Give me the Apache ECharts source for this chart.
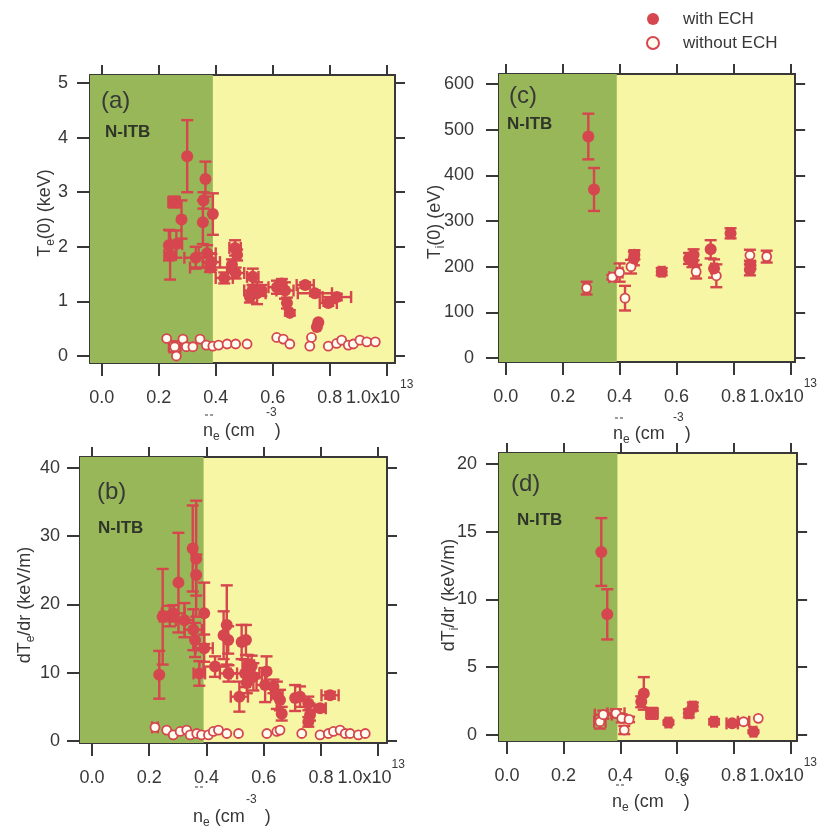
<!DOCTYPE html>
<html>
<head>
<meta charset="utf-8">
<script src="https://cdn.jsdelivr.net/npm/echarts@6/dist/echarts.min.js"></script>
<style>
  html, body { margin: 0; padding: 0; background: #ffffff; }
  #chart { width: 834px; height: 827px; }
</style>
</head>
<body>
<div id="chart"></div>
<script>
// Colours and fonts
const RED = '#d6464e';
const GREEN = '#98b758';
const YELLOW = '#f7f6a4';
const INK = '#383838';
const FONT = '"Liberation Sans", Arial, Helvetica, sans-serif';

// Tick values
const NE_TICKS = [0, 0.2, 0.4, 0.6, 0.8, 1.0];          // line-averaged density, 1e13 cm^-3
const TE_TICKS = [0, 1, 2, 3, 4, 5];                      // keV
const TI_TICKS = [0, 100, 200, 300, 400, 500, 600];       // eV
const DTE_TICKS = [0, 10, 20, 30, 40];                    // keV/m
const DTI_TICKS = [0, 5, 10, 15, 20];                     // keV/m

// Upper density limit of the N-ITB regime
const ITB_EDGE = 0.39;

// Rows: [ne, value, half error in value, half error in ne]

// (a) central electron temperature Te(0), keV
const teWithECH = [
  [0.240, 1.85, 0.45, 0.02], [0.236, 2.03, 0.28, 0], [0.262, 2.05, 0.25, 0.02],
  [0.254, 2.82, 0.10, 0.02], [0.280, 2.50, 0.35, 0], [0.300, 3.66, 0.66, 0],
  [0.330, 1.80, 0.20, 0.04], [0.364, 3.24, 0.32, 0], [0.357, 2.85, 0.15, 0],
  [0.355, 2.45, 0.40, 0], [0.390, 2.60, 0.38, 0], [0.370, 1.88, 0.15, 0.03],
  [0.385, 1.72, 0.15, 0.03], [0.380, 1.62, 0.08, 0.07], [0.430, 1.43, 0.10, 0.03],
  [0.470, 1.52, 0.10, 0.03], [0.468, 1.98, 0.14, 0.02], [0.475, 1.85, 0.10, 0],
  [0.457, 1.67, 0.10, 0], [0.530, 1.45, 0.15, 0.02], [0.530, 1.20, 0.10, 0.03],
  [0.545, 1.15, 0.20, 0.03], [0.560, 1.20, 0.10, 0], [0.520, 1.08, 0.10, 0],
  [0.615, 1.26, 0.12, 0.03], [0.643, 1.20, 0.15, 0.03], [0.632, 1.33, 0.08, 0],
  [0.650, 0.97, 0.10, 0], [0.660, 0.79, 0.05, 0], [0.714, 1.30, 0.05, 0.03],
  [0.748, 1.15, 0.05, 0.06], [0.760, 0.62, 0, 0], [0.755, 0.53, 0, 0],
  [0.795, 0.97, 0.05, 0.03], [0.825, 1.08, 0.06, 0.05]
];
const teWithoutECH = [
  [0.228, 0.32, 0, 0], [0.262, 0.00, 0, 0], [0.256, 0.17, 0.10, 0.02], [0.285, 0.31, 0, 0],
  [0.297, 0.17, 0, 0], [0.320, 0.17, 0, 0], [0.345, 0.31, 0, 0], [0.367, 0.20, 0, 0],
  [0.390, 0.18, 0, 0], [0.410, 0.20, 0, 0], [0.440, 0.22, 0, 0], [0.470, 0.22, 0, 0],
  [0.510, 0.22, 0, 0], [0.614, 0.34, 0, 0], [0.637, 0.31, 0, 0], [0.660, 0.22, 0, 0],
  [0.736, 0.34, 0, 0], [0.730, 0.18, 0, 0], [0.795, 0.18, 0, 0], [0.824, 0.23, 0, 0],
  [0.842, 0.29, 0, 0], [0.865, 0.20, 0, 0], [0.883, 0.22, 0, 0], [0.906, 0.29, 0, 0],
  [0.930, 0.26, 0, 0], [0.960, 0.26, 0, 0]
];

// (b) electron temperature gradient dTe/dr, keV/m
const dteWithECH = [
  [0.235, 9.7, 3.5, 0], [0.247, 18.2, 7.0, 0.01], [0.272, 18.3, 1.5, 0.02],
  [0.284, 18.7, 1.2, 0.04], [0.302, 23.2, 7.3, 0], [0.323, 17.7, 2.5, 0.03],
  [0.352, 28.2, 6.3, 0], [0.364, 26.7, 8.5, 0], [0.364, 24.3, 3.0, 0],
  [0.354, 16.3, 3.0, 0.03], [0.360, 14.8, 2.5, 0], [0.375, 9.9, 1.8, 0.02],
  [0.392, 18.7, 4.5, 0], [0.392, 13.6, 2.0, 0.03], [0.430, 10.9, 1.5, 0.04],
  [0.460, 15.5, 3.5, 0], [0.471, 17.0, 5.8, 0], [0.476, 14.8, 2.0, 0],
  [0.477, 9.9, 1.2, 0.03], [0.515, 6.5, 2.2, 0.03], [0.523, 14.5, 2.5, 0],
  [0.538, 14.8, 2.2, 0], [0.535, 9.9, 2.0, 0.05], [0.546, 11.1, 1.5, 0.02],
  [0.541, 8.5, 1.5, 0], [0.564, 9.4, 2.0, 0.03], [0.558, 11.0, 1.5, 0],
  [0.610, 10.2, 2.2, 0], [0.605, 8.2, 2.5, 0.03], [0.634, 8.0, 1.0, 0],
  [0.646, 6.7, 2.0, 0.02], [0.657, 6.0, 1.5, 0], [0.663, 4.0, 1.0, 0],
  [0.710, 6.3, 1.9, 0], [0.727, 6.5, 1.5, 0], [0.756, 5.5, 1.0, 0],
  [0.762, 3.8, 0.8, 0], [0.756, 2.8, 0.7, 0], [0.797, 4.8, 0.5, 0.02],
  [0.832, 6.7, 0.5, 0.03]
];
const dteWithoutECH = [
  [0.220, 2.0, 0, 0.01], [0.261, 1.6, 0, 0], [0.284, 0.9, 0, 0], [0.308, 1.4, 0, 0],
  [0.331, 1.6, 0, 0], [0.343, 0.9, 0, 0], [0.366, 1.1, 0, 0], [0.383, 0.9, 0, 0],
  [0.407, 0.9, 0, 0], [0.424, 1.4, 0, 0], [0.442, 1.6, 0, 0], [0.471, 1.1, 0, 0],
  [0.512, 1.1, 0, 0], [0.611, 1.1, 0, 0], [0.646, 1.4, 0, 0], [0.657, 1.6, 0, 0],
  [0.733, 1.1, 0, 0], [0.797, 0.9, 0, 0], [0.826, 1.1, 0, 0], [0.844, 1.4, 0, 0],
  [0.867, 1.6, 0, 0], [0.885, 1.1, 0, 0], [0.902, 1.1, 0, 0], [0.931, 0.9, 0, 0],
  [0.955, 1.1, 0, 0]
];

// (c) central ion temperature Ti(0), eV
const tiWithECH = [
  [0.290, 485, 50, 0], [0.310, 369, 47, 0], [0.450, 218, 15, 0.01],
  [0.452, 226, 10, 0], [0.548, 189, 8, 0.01], [0.644, 218, 12, 0.01],
  [0.656, 211, 12, 0], [0.660, 226, 12, 0], [0.720, 238, 20, 0],
  [0.732, 196, 20, 0.01], [0.790, 273, 11, 0.01], [0.858, 193, 12, 0.01],
  [0.860, 203, 8, 0]
];
const tiWithoutECH = [
  [0.284, 153, 14, 0.01], [0.374, 177, 5, 0.01], [0.400, 187, 20, 0.01],
  [0.419, 131, 27, 0], [0.440, 200, 15, 0], [0.669, 189, 15, 0.01],
  [0.740, 180, 25, 0], [0.858, 225, 12, 0], [0.917, 222, 13, 0.01]
];

// (d) ion temperature gradient dTi/dr, keV/m
const dtiWithECH = [
  [0.333, 13.5, 2.5, 0], [0.354, 8.9, 1.85, 0], [0.483, 3.07, 1.2, 0],
  [0.474, 2.45, 0.4, 0.01], [0.512, 1.60, 0.4, 0.02], [0.570, 0.92, 0.15, 0.01],
  [0.642, 1.60, 0.3, 0.01], [0.656, 2.10, 0.3, 0.01], [0.731, 0.98, 0.2, 0.01],
  [0.795, 0.86, 0.15, 0.02], [0.870, 0.25, 0.1, 0.01]
];
const dtiWithoutECH = [
  [0.328, 0.98, 0.5, 0.02], [0.340, 1.50, 0.3, 0.03], [0.385, 1.60, 0.3, 0.03],
  [0.405, 1.23, 0.3, 0], [0.414, 0.37, 0.3, 0], [0.431, 1.15, 0.2, 0],
  [0.512, 1.60, 0.2, 0], [0.835, 0.98, 0.2, 0.02], [0.887, 1.23, 0, 0]
];

// Panel frames and axis extents
const PANELS = [
  { grid: { left: 90, top: 75, width: 305, height: 288 }, xRange: [-0.041, 1.029], yRange: [-0.128, 5.147],
    yTicks: TE_TICKS, withECH: teWithECH, withoutECH: teWithoutECH, yMargin: 22 },
  { grid: { left: 499, top: 74, width: 308, height: 288 }, xRange: [-0.024, 1.017], yRange: [-8.8, 621.9],
    yTicks: TI_TICKS, withECH: tiWithECH, withoutECH: tiWithoutECH, yMargin: 25 },
  { grid: { left: 80, top: 457, width: 307, height: 286 }, xRange: [-0.042, 1.031], yRange: [-0.29, 41.6],
    yTicks: DTE_TICKS, withECH: dteWithECH, withoutECH: dteWithoutECH, yMargin: 20 },
  { grid: { left: 499, top: 453, width: 304, height: 288 }, xRange: [-0.028, 1.024], yRange: [-0.44, 20.8],
    yTicks: DTI_TICKS, withECH: dtiWithECH, withoutECH: dtiWithoutECH, yMargin: 22 }
];

const CAP = 6;
function renderErrorBar(params, api) {
  const x = api.value(0), y = api.value(1), ey = api.value(2), ex = api.value(3);
  const style = { stroke: RED, lineWidth: 2.4 };
  const children = [];
  const seg = (x1, y1, x2, y2) => children.push({ type: 'line', shape: { x1, y1, x2, y2 }, style });
  if (ey > 0) {
    const t = api.coord([x, y + ey]), b = api.coord([x, y - ey]);
    seg(t[0], t[1], b[0], b[1]);
    seg(t[0] - CAP, t[1], t[0] + CAP, t[1]);
    seg(b[0] - CAP, b[1], b[0] + CAP, b[1]);
  }
  if (ex > 0) {
    const l = api.coord([x - ex, y]), r = api.coord([x + ex, y]);
    seg(l[0], l[1], r[0], r[1]);
    seg(l[0], l[1] - CAP, l[0], l[1] + CAP);
    seg(r[0], r[1] - CAP, r[0], r[1] + CAP);
  }
  return { type: 'group', children };
}

const axisLine = { show: true, onZero: false, lineStyle: { color: INK, width: 2 } };
const tickStyle = { color: INK, width: 2 };

const grid = [], xAxis = [], yAxis = [], series = [];
PANELS.forEach((p, i) => {
  grid.push(Object.assign({ show: true, backgroundColor: YELLOW, borderWidth: 0 }, p.grid));
  const xBase = { type: 'value', gridIndex: i, min: p.xRange[0], max: p.xRange[1], axisLine, splitLine: { show: false } };
  xAxis.push(Object.assign({}, xBase, {
    position: 'bottom',
    axisTick: { show: true, customValues: NE_TICKS, length: 13, lineStyle: tickStyle },
    axisLabel: {
      customValues: NE_TICKS, margin: 16, color: INK, fontFamily: FONT,
      formatter: v => Math.abs(v - 1) < 1e-9 ? '{v|1.0x10}{sup|13}' : '{v|' + v.toFixed(1) + '}',
      rich: {
        v: { fontSize: 18, lineHeight: 28, verticalAlign: 'bottom', color: INK, fontFamily: FONT },
        sup: { fontSize: 12, lineHeight: 16, verticalAlign: 'top', color: INK, fontFamily: FONT, padding: [0, 14, 0, 0] }
      }
    }
  }));
  xAxis.push(Object.assign({}, xBase, {
    position: 'top',
    axisTick: { show: true, customValues: NE_TICKS, length: 10, lineStyle: tickStyle },
    axisLabel: { show: false }
  }));
  const yBase = { type: 'value', gridIndex: i, min: p.yRange[0], max: p.yRange[1], axisLine, splitLine: { show: false } };
  yAxis.push(Object.assign({}, yBase, {
    position: 'left',
    axisTick: { show: true, customValues: p.yTicks, length: 13, lineStyle: tickStyle },
    axisLabel: { customValues: p.yTicks, margin: p.yMargin, fontSize: 18, color: INK, fontFamily: FONT }
  }));
  yAxis.push(Object.assign({}, yBase, {
    position: 'right',
    axisTick: { show: true, customValues: p.yTicks, length: 10, lineStyle: tickStyle },
    axisLabel: { show: false }
  }));
  const axes = { xAxisIndex: 2 * i, yAxisIndex: 2 * i };
  series.push(Object.assign({
    type: 'scatter', data: [], silent: true, z: 1,
    markArea: { silent: true, itemStyle: { color: GREEN }, data: [[{ xAxis: p.xRange[0] }, { xAxis: ITB_EDGE }]] }
  }, axes));
  series.push(Object.assign({
    type: 'custom', renderItem: renderErrorBar, data: p.withECH.concat(p.withoutECH),
    encode: { x: 0, y: 1 }, silent: true, z: 2
  }, axes));
  series.push(Object.assign({
    type: 'scatter', name: 'without ECH', data: p.withoutECH, symbol: 'circle', symbolSize: 9,
    itemStyle: { color: '#fffdf0', borderColor: RED, borderWidth: 1.8, opacity: 1 }, z: 3
  }, axes));
  series.push(Object.assign({
    type: 'scatter', name: 'with ECH', data: p.withECH, symbol: 'circle', symbolSize: 12,
    itemStyle: { color: RED, opacity: 1 }, z: 4
  }, axes));
});

// Text helpers
const subRich = { s: { fontSize: 12, lineHeight: 12, verticalAlign: 'bottom', fill: INK, fontFamily: FONT } };
function yTitle(cx, cy, text) {
  return { type: 'text', x: cx, y: cy, rotation: Math.PI / 2, z: 10,
    style: { text, fontSize: 18, lineHeight: 24, fontFamily: FONT, fill: INK, align: 'center', verticalAlign: 'middle', rich: subRich } };
}
function neTitle(x, y, supX, supY, barX, barY) {
  return [
    { type: 'text', x, y, z: 10,
      style: { text: 'n{s|e} (cm    )', fontSize: 18, lineHeight: 24, fontFamily: FONT, fill: INK, align: 'left', verticalAlign: 'middle', rich: subRich } },
    { type: 'text', x: supX, y: supY, z: 10,
      style: { text: '-3', fontSize: 12, fontFamily: FONT, fill: INK, align: 'left', verticalAlign: 'middle' } },
    { type: 'line', z: 10, shape: { x1: barX, y1: barY, x2: barX + 8, y2: barY },
      style: { stroke: INK, lineWidth: 1.2, lineDash: [3, 2] } }
  ];
}
function panelTag(x, y, tag) {
  return { type: 'text', x, y, z: 10,
    style: { text: tag, fontSize: 24, fontFamily: FONT, fill: INK, align: 'left', verticalAlign: 'middle' } };
}
function itbTag(x, y) {
  return { type: 'text', x, y, z: 10,
    style: { text: 'N-ITB', fontSize: 17, fontWeight: 'bold', fontFamily: FONT, fill: '#30352a', align: 'left', verticalAlign: 'middle' } };
}

const graphic = [
  yTitle(45, 213, 'T{s|e}(0) (keV)'),
  yTitle(435, 222, 'T{s|i}(0) (eV)'),
  yTitle(25, 605, 'dT{s|e}/dr (keV/m)'),
  yTitle(449, 595, 'dT{s|i}/dr (keV/m)'),
  ...neTitle(203, 431, 266, 413, 205, 415),
  ...neTitle(613, 434, 673, 418, 615, 418),
  ...neTitle(193, 817, 246, 800, 195, 787),
  ...neTitle(612, 802, 676, 783, 616, 785),
  panelTag(101, 101, '(a)'), itbTag(105, 132),
  panelTag(509, 96, '(c)'), itbTag(507, 124),
  panelTag(97, 492, '(b)'), itbTag(98, 528),
  panelTag(511, 484, '(d)'), itbTag(517, 520)
];

const chart = echarts.init(document.getElementById('chart'), null, { renderer: 'canvas' });
chart.setOption({
  animation: false,
  backgroundColor: '#ffffff',
  legend: {
    data: ['with ECH', 'without ECH'], orient: 'vertical', left: 641, top: 4,
    itemWidth: 12, itemHeight: 12, itemGap: 4, selectedMode: false,
    textStyle: { fontSize: 17, color: INK, fontFamily: FONT, lineHeight: 20, padding: [0, 0, 0, 19] }
  },
  grid, xAxis, yAxis, series, graphic
});
</script>
</body>
</html>
